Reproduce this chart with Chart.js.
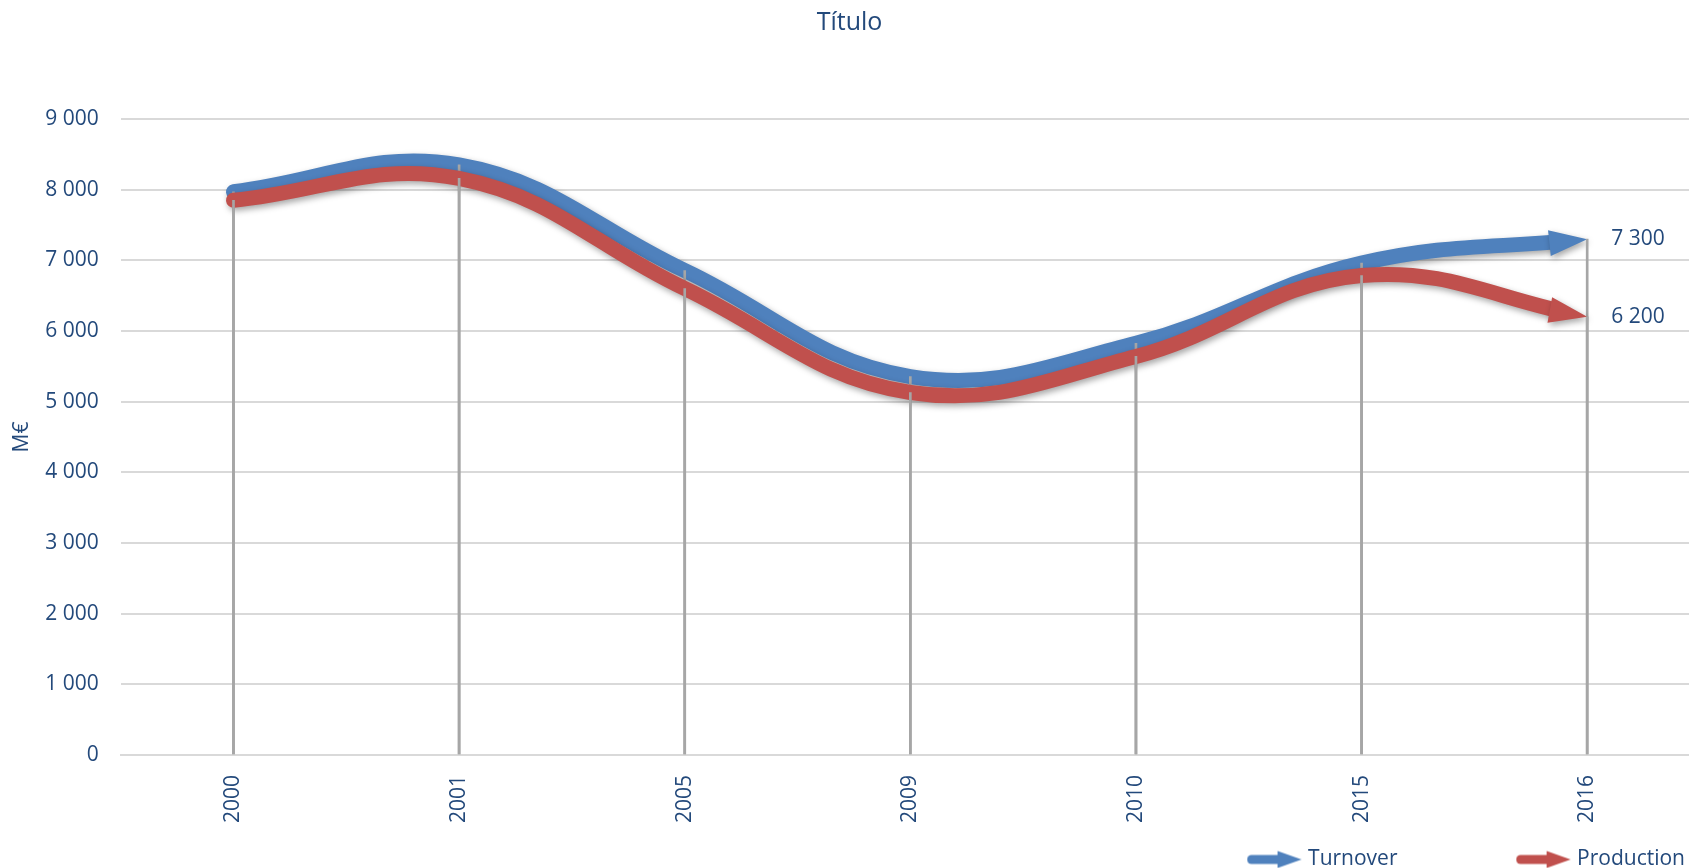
<!DOCTYPE html>
<html>
<head>
<meta charset="utf-8">
<title>Título</title>
<script src="https://cdn.jsdelivr.net/npm/chart.js@4.4.1/dist/chart.umd.min.js"></script>
<style>
  html, body { margin: 0; padding: 0; background: #fff; }
  #wrap { width: 1689px; height: 868px; }
</style>
</head>
<body>
<div id="wrap"><canvas id="chart"></canvas></div>
<script>
// Chart data
const years = ["2000", "2001", "2005", "2009", "2010", "2015", "2016"];
const turnover = [7970, 8350, 6855, 5355, 5825, 6960, 7300];
const production = [7850, 8160, 6600, 5130, 5640, 6785, 6200];

const TEXT = "#23497b";
const BLUE = "#4f81bd";
const RED = "#c0504d";
const DROP = "#a6a6a6";
const FONT = "'Open Sans'";

// "9 000" style numbers
const spaced = (v) => String(v).replace(/\B(?=(\d{3})+(?!\d))/g, " ");

// Small arrow icons for the legend
function legendArrow(color) {
    const c = document.createElement("canvas");
    c.width = 56;
    c.height = 20;
    const g = c.getContext("2d");
    g.strokeStyle = color;
    g.fillStyle = color;
    g.lineWidth = 9;
    g.lineCap = "round";
    g.beginPath();
    g.moveTo(5, 10);
    g.lineTo(34, 10);
    g.stroke();
    g.beginPath();
    g.moveTo(31, 1.5);
    g.lineTo(55, 10);
    g.lineTo(31, 18.5);
    g.closePath();
    g.fill();
    return c;
}

const ARROW_LEN = 38;
const ARROW_HALF = 13;
const PLOT_OVERFLOW = 11; // plot area runs a little past the right edge

// Direction of the line at its last point
function endDirection(pts) {
    const end = pts[pts.length - 1];
    let px = end.cp1x, py = end.cp1y;
    if (px === undefined || (Math.abs(px - end.x) < 0.5 && Math.abs(py - end.y) < 0.5)) {
        px = pts[pts.length - 2].x;
        py = pts[pts.length - 2].y;
    }
    const dx = end.x - px, dy = end.y - py;
    const len = Math.hypot(dx, dy) || 1;
    return { x: dx / len, y: dy / len };
}

function setShadow(ctx) {
    ctx.shadowColor = "rgba(0, 0, 0, 0.35)";
    ctx.shadowBlur = 6;
    ctx.shadowOffsetX = 2;
    ctx.shadowOffsetY = 3;
}

const arrowEnds = {
    id: "arrowEnds",
    afterLayout(chart) {
        const x = chart.scales.x;
        const extra = chart.width + PLOT_OVERFLOW - x.right;
        x.right += extra;
        x.width += extra;
        x.configure();
    },
    beforeDatasetDraw(chart, args) {
        const ds = chart.data.datasets[args.index];
        if (ds.type !== "line") return;
        const ctx = chart.ctx;
        const pts = args.meta.data;
        const end = pts[pts.length - 1];
        const u = endDirection(pts);
        const n = { x: -u.y, y: u.x };
        const bx = end.x - u.x * (ARROW_LEN - 2);
        const by = end.y - u.y * (ARROW_LEN - 2);
        ctx.save();
        setShadow(ctx);
        // cut the line off where the arrow head starts
        ctx.beginPath();
        ctx.rect(0, 0, chart.width, chart.height);
        ctx.moveTo(bx + n.x * 40, by + n.y * 40);
        ctx.lineTo(bx + n.x * 40 + u.x * 90, by + n.y * 40 + u.y * 90);
        ctx.lineTo(bx - n.x * 40 + u.x * 90, by - n.y * 40 + u.y * 90);
        ctx.lineTo(bx - n.x * 40, by - n.y * 40);
        ctx.closePath();
        ctx.clip("evenodd");
    },
    afterDatasetDraw(chart, args) {
        const ds = chart.data.datasets[args.index];
        if (ds.type !== "line") return;
        const ctx = chart.ctx;
        ctx.restore();
        const pts = args.meta.data;
        const end = pts[pts.length - 1];
        const u = endDirection(pts);
        const n = { x: -u.y, y: u.x };
        const bx = end.x - u.x * ARROW_LEN;
        const by = end.y - u.y * ARROW_LEN;
        ctx.save();
        setShadow(ctx);
        ctx.fillStyle = ds.borderColor;
        ctx.beginPath();
        ctx.moveTo(end.x, end.y);
        ctx.lineTo(bx + n.x * ARROW_HALF, by + n.y * ARROW_HALF);
        ctx.lineTo(bx - n.x * ARROW_HALF, by - n.y * ARROW_HALF);
        ctx.closePath();
        ctx.fill();
        ctx.restore();
    },
    afterDatasetsDraw(chart) {
        const ctx = chart.ctx;
        ctx.save();
        ctx.font = "21px " + FONT;
        ctx.fillStyle = TEXT;
        ctx.textAlign = "left";
        ctx.textBaseline = "middle";
        chart.data.datasets.forEach((ds, i) => {
            if (ds.type !== "line") return;
            const pts = chart.getDatasetMeta(i).data;
            const end = pts[pts.length - 1];
            ctx.fillText(spaced(ds.data[ds.data.length - 1]), end.x + 24, end.y);
        });
        ctx.restore();
    }
};

const pad = "\u00a0".repeat(20);

const lineStyle = {
    type: "line",
    borderWidth: 15,
    borderCapStyle: "round",
    borderJoinStyle: "round",
    tension: 0.4,
    pointRadius: 0,
    fill: false,
};

const dropStyle = {
    type: "bar",
    backgroundColor: DROP,
    barThickness: 2,
    grouped: false,
};

const ctx = document.getElementById("chart").getContext("2d");
new Chart(ctx, {
    data: {
        labels: years,
        datasets: [
            { ...lineStyle, label: "Turnover", data: turnover, borderColor: BLUE, order: 4 },
            { ...lineStyle, label: "Production", data: production, borderColor: RED, order: 2 },
            // drop lines, one per series, drawn just above their own line
            { ...dropStyle, label: "drop turnover", data: turnover, order: 3 },
            { ...dropStyle, label: "drop production", data: production, order: 1 },
        ],
    },
    options: {
        responsive: true,
        maintainAspectRatio: false,
        animation: false,
        layout: {
            padding: { left: 0, right: -10, top: 0, bottom: -12 }
        },
        plugins: {
            title: {
                display: true,
                text: "Título",
                color: TEXT,
                font: { family: FONT, size: 25, weight: "normal" },
                padding: { top: 8, bottom: 81 }
            },
            legend: {
                position: "bottom",
                align: "end",
                labels: {
                    usePointStyle: true,
                    pointStyleWidth: 46,
                    padding: 14,
                    color: TEXT,
                    font: { family: FONT, size: 21 },
                    generateLabels: (chart) => [
                        { text: "Turnover" + pad, pointStyle: legendArrow(BLUE), fontColor: TEXT, datasetIndex: 0, lineWidth: 0, strokeStyle: "transparent", fillStyle: BLUE },
                        { text: "Production", pointStyle: legendArrow(RED), fontColor: TEXT, datasetIndex: 1, lineWidth: 0, strokeStyle: "transparent", fillStyle: RED },
                    ]
                }
            },
            tooltip: { enabled: false }
        },
        scales: {
            x: {
                offset: true,
                grid: { display: false },
                border: { display: true, color: "#d9d9d9", width: 2 },
                ticks: {
                    color: TEXT,
                    font: { family: FONT, size: 21 },
                    minRotation: 90,
                    maxRotation: 90,
                    autoSkip: false,
                    padding: 12
                }
            },
            y: {
                min: 0,
                max: 9000,
                title: {
                    display: true,
                    text: "M€",
                    color: TEXT,
                    font: { family: FONT, size: 21 },
                    padding: { top: 9, bottom: -11 }
                },
                grid: { color: "#d9d9d9", lineWidth: 2, drawTicks: false },
                border: { display: false },
                ticks: {
                    stepSize: 1000,
                    color: TEXT,
                    font: { family: FONT, size: 21 },
                    padding: 22,
                    callback: (v) => spaced(v)
                }
            }
        }
    },
    plugins: [arrowEnds]
});
</script>
</body>
</html>
